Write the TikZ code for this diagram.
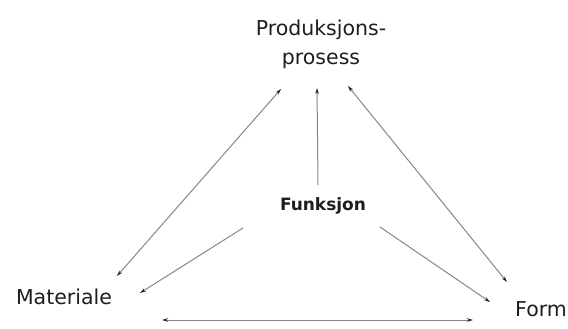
\documentclass[tikz,border=0pt]{standalone}
\usepackage{fontspec}
\setmainfont{DejaVu Sans}
\usetikzlibrary{arrows.meta,calc}
\definecolor{inkgray}{RGB}{30,30,30}
\definecolor{linegray}{RGB}{135,135,135}
\begin{document}
\begin{tikzpicture}[x=1pt,y=-1pt,
  concept/.style={inner sep=0pt,text=inkgray,font=\fontsize{20.5}{29}\selectfont},
  conn/.style={draw=linegray,line width=1pt,arrows={-Stealth[length=6pt,width=3.5pt,color=inkgray]}},
  both/.style={draw=linegray,line width=1pt,arrows={Stealth[length=6pt,width=3.5pt,color=inkgray]-Stealth[length=6pt,width=3.5pt,color=inkgray]}}]
  \useasboundingbox (0,0) rectangle (568,329);

  % the four concepts
  \node[concept,align=center] (prod) at (321,44) {Produksjons-\\prosess};
  \node[concept,font=\fontsize{17}{20}\selectfont\bfseries] (fun) at (323,206) {Funksjon};
  \node[concept] (mat) at (64,297) {Materiale};
  \node[concept] (form) at (541,309) {Form};

  % two-way relations along the triangle
  \draw[both] ($(mat.center)+(53,-21)$) -- ($(prod.center)+(-40,45)$);
  \draw[both] ($(prod.center)+(27,42)$) -- ($(form.center)+(-34,-27)$);
  \draw[both] ($(mat.center)+(98,23)$) -- ($(form.center)+(-68,11)$);

  % function drives the other three
  \draw[conn] ($(fun.center)+(-5,-21)$) -- ($(prod.center)+(-4,44)$);
  \draw[conn] ($(fun.center)+(-80,22)$) -- ($(mat.center)+(76,-4)$);
  \draw[conn] ($(fun.center)+(57,21)$) -- ($(form.center)+(-51,-7)$);
\end{tikzpicture}
\end{document}
